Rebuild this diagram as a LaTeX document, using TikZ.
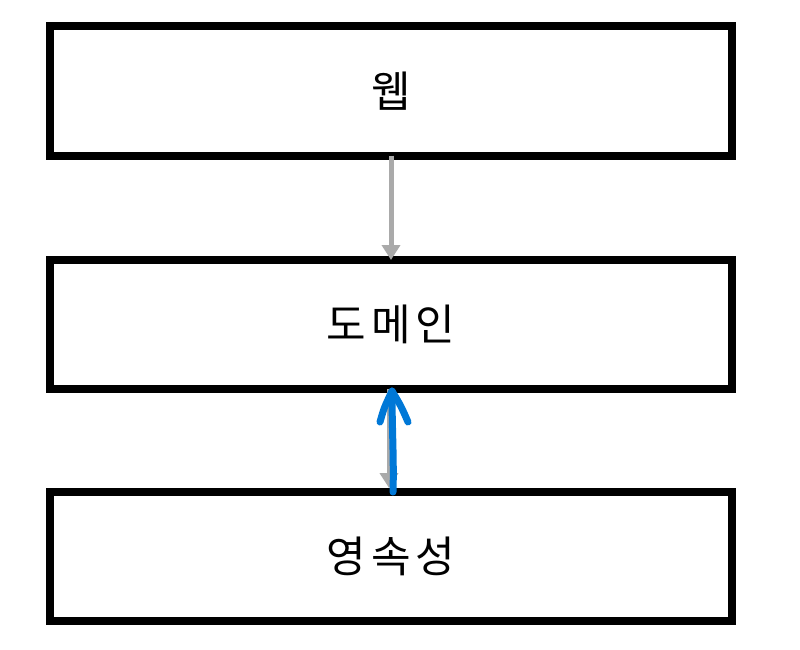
\documentclass[tikz,border=0pt]{standalone}
\usepackage{fontspec}
\newfontfamily\kr[LetterSpace=12]{Noto Sans CJK KR}
\usetikzlibrary{arrows.meta}
\definecolor{arrowgray}{RGB}{170,170,170}
\definecolor{penblue}{RGB}{0,120,215}
\begin{document}
\begin{tikzpicture}[x=1pt,y=-1pt,
  layer/.style={draw=black,line width=8pt,minimum width=682pt,minimum height=129pt,inner sep=0pt,outer sep=0pt,font=\kr\fontsize{43}{50}\selectfont},
  grayarrow/.style={draw=arrowgray,line width=5pt,-{Triangle[length=15pt,width=18pt]}},
  pen/.style={draw=penblue,line width=7pt,line cap=round,line join=round}]
\useasboundingbox (0,0) rectangle (800,650);
\node[layer] (web) at (391,91) {웹};
\node[layer] (domain) at (391,324.5) {도메인};
\node[layer] (persist) at (391,556.5) {영속성};
\draw[grayarrow] (web.south) -- (domain.north);
\draw[grayarrow,shorten >=4pt] ([xshift=-2pt]domain.south) -- ([xshift=-2pt]persist.north);
\coordinate (tip) at (392,391);
\draw[pen] ([xshift=2pt]persist.north) .. controls (394,460) and (392,430) .. (tip);
\draw[pen] (380,422) .. controls (384,408) .. (tip) .. controls (401,406) .. (408,422);
\end{tikzpicture}
\end{document}
